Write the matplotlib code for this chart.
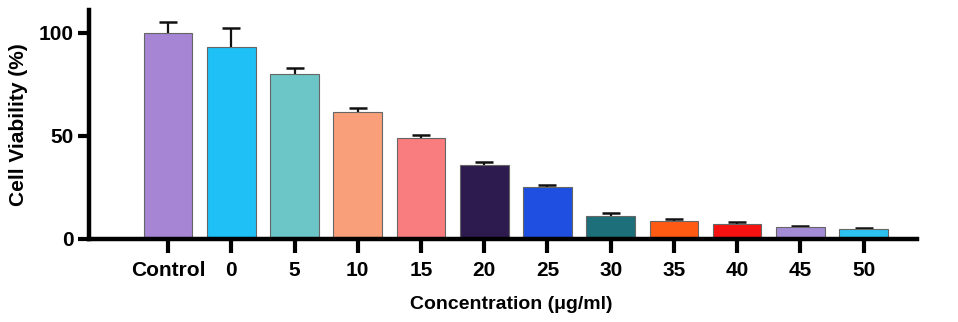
import matplotlib.pyplot as plt
import numpy as np

plt.rcParams['font.family'] = ['Liberation Sans', 'DejaVu Sans']
plt.rcParams['font.weight'] = 'bold'

categories = ["Control", "0", "5", "10", "15", "20", "25", "30", "35", "40", "45", "50"]
viability = [100.0, 93.2, 80.1, 61.8, 48.9, 35.8, 25.1, 11.2, 8.9, 7.3, 5.8, 4.9]
errors = [5.2, 9.1, 2.8, 1.8, 1.3, 1.7, 1.3, 1.4, 1.0, 1.0, 0.7, 0.5]
colors = ["#a585d4", "#1ec0f5", "#6cc5c7", "#f9a07a", "#f97c7e", "#2d1a4e",
          "#1e4fe0", "#1d6f7a", "#ff5a14", "#f71212", "#a48bd6", "#2cc3f0"]

fig = plt.figure(figsize=(9.58, 3.22), dpi=100)
ax = fig.add_axes([0.0929, 0.2578, 0.864, 0.711])

x = np.arange(len(categories))
ax.bar(x, viability, width=0.77, color=colors, edgecolor="#666666", linewidth=0.8, zorder=2)
# symmetric error bars drawn behind the bars, so only the upper half shows
ax.errorbar(x, viability, yerr=errors, fmt="none",
            ecolor="#111111", elinewidth=1.6, capsize=6.5, capthick=1.8, zorder=1)

ax.set_xlim(-1.25, 11.84)
ax.set_ylim(0, 111)
ax.set_yticks([0, 50, 100])
ax.set_xticks(x)
ax.set_xticklabels(categories)

for side in ["top", "right"]:
    ax.spines[side].set_visible(False)
for side in ["left", "bottom"]:
    ax.spines[side].set_linewidth(3.2)
    ax.spines[side].set_color("black")
    ax.spines[side].set_zorder(4)

ax.tick_params(axis="x", length=10, width=3, pad=6, labelsize=15)
ax.tick_params(axis="y", length=8, width=3, pad=3, labelsize=15)

fig.text(0.019, 0.612, "Cell Viability (%)", rotation=90, ha="center", va="center",
         fontsize=15, fontweight="bold")
fig.text(0.534, 0.053, "Concentration (\u03bcg/ml)", ha="center", va="center",
         fontsize=14, fontweight="bold")

fig.savefig("out.png", dpi=100)
